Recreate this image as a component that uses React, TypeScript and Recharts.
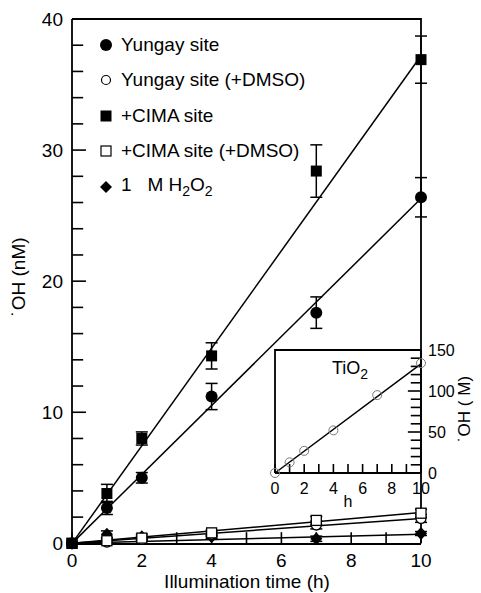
import { ComposedChart, ErrorBar, Legend, Line, Scatter, XAxis, YAxis } from 'recharts';

const hours = [0, 1, 2, 4, 7, 10];

const yungay = [0, 2.7, 5.0, 11.2, 17.6, 26.4];
const yungayErr = [0, 0.5, 0.4, 1.0, 1.2, 1.5];
const yungayDmso = [0, 0.1, 0.3, 0.7, 1.4, 1.9];
const yungayDmsoErr = [0, 0.15, 0.15, 0.2, 0.3, 0.3];
const cima = [0, 3.8, 8.0, 14.3, 28.4, 36.9];
const cimaErr = [0, 0.7, 0.5, 1.0, 2.0, 1.8];
const cimaDmso = [0, 0.2, 0.4, 0.8, 1.75, 2.3];
const cimaDmsoErr = [0, 0.15, 0.15, 0.2, 0.3, 0.3];
const h2o2 = [0, 0.7, 0.5, 0.5, 0.35, 0.75];
const h2o2Err = [0, 0.25, 0.2, 0.15, 0.2, 0.15];

// fitted lines (start and end of each fit)
const fitHours = [0, 10];
const yungayFit = [0, 26.3];
const cimaFit = [0, 37.2];
const yungayDmsoFit = [0, 1.9];
const cimaDmsoFit = [0, 2.35];
const h2o2Fit = [0, 0.7];

const mainXTicks = [0, 1, 2, 3, 4, 5, 6, 7, 8, 9, 10];
const mainYTicks = [0, 2, 4, 6, 8, 10, 12, 14, 16, 18, 20, 22, 24, 26, 28, 30, 32, 34, 36, 38, 40];

// inset: TiO2
const insetHours = [0, 1, 2, 4, 7, 10];
const tio2 = [0, 13, 27, 52, 95, 134];
const tio2Fit = [0, 133];
const insetXTicks = [0, 1, 2, 3, 4, 5, 6, 7, 8, 9, 10];
const insetYTicks = [0, 10, 20, 30, 40, 50, 60, 70, 80, 90, 100, 110, 120, 130, 140, 150];

const seriesNames = ['Yungay site', 'Yungay site (+DMSO)', '+CIMA site', '+CIMA site (+DMSO)'];

const FONT = '"Liberation Sans", Arial, Helvetica, sans-serif';
const AXIS = { stroke: '#000', strokeWidth: 1.8 };

// inward tick lengths, in axis units
const MAIN_XTICK = 0.85; // nM
const MAIN_YTICK = 0.32; // h
const MAIN_YTICK_MAJOR = 0.4;
const INSET_XTICK = 11; // uM
const INSET_YTICK = 0.7; // h
const INSET_YTICK_MAJOR = 0.9;

const toPoints = (xs: number[], ys: number[], errs?: number[]) =>
    xs.map((x, i) => ({ x, y: ys[i], err: errs ? errs[i] : 0 }));

const FilledCircle = (p: any) => <circle cx={p.cx} cy={p.cy} r={6} fill="#000" />;
const OpenCircle = (p: any) => (
    <circle cx={p.cx} cy={p.cy} r={5} fill="#fff" stroke="#000" strokeWidth={1.3} />
);
const FilledSquare = (p: any) => <rect x={p.cx - 5.5} y={p.cy - 5.5} width={11} height={11} fill="#000" />;
const OpenSquare = (p: any) => (
    <rect x={p.cx - 5} y={p.cy - 5} width={10} height={10} fill="#fff" stroke="#000" strokeWidth={1.3} />
);
const Diamond = (p: any) => (
    <polygon
        points={`${p.cx},${p.cy - 6.5} ${p.cx + 6},${p.cy} ${p.cx},${p.cy + 6.5} ${p.cx - 6},${p.cy}`}
        fill="#000"
    />
);
const InsetCircle = (p: any) => (
    <circle cx={p.cx} cy={p.cy} r={4.5} fill="none" stroke="#777" strokeWidth={1} />
);

// axis tick labels
function MainXLabel(props: any) {
    const { x, y, payload } = props;
    const v = payload.value;
    if (v % 2 !== 0) return <g />;
    return (
        <text x={x} y={y + 23} textAnchor="middle" fontSize={19} fontFamily={FONT} fill="#000">
            {v}
        </text>
    );
}

function MainYLabel(props: any) {
    const { x, y, payload } = props;
    const v = payload.value;
    if (v % 10 !== 0) return <g />;
    return (
        <text x={x - 9} y={y + 7} textAnchor="end" fontSize={19} fontFamily={FONT} fill="#000">
            {v}
        </text>
    );
}

function InsetXLabel(props: any) {
    const { x, y, payload } = props;
    const v = payload.value;
    if (v % 2 !== 0) return <g />;
    return (
        <text x={x} y={y + 21} textAnchor="middle" fontSize={16} fontFamily={FONT} fill="#000">
            {v}
        </text>
    );
}

function InsetYLabel(props: any) {
    const { x, y, payload } = props;
    const v = payload.value;
    if (v % 50 !== 0) return <g />;
    return (
        <text x={x + 7} y={y + 6} textAnchor="start" fontSize={16} fontFamily={FONT} fill="#000">
            {v}
        </text>
    );
}

function LegendMarker({ kind }: { kind: string }) {
    return (
        <svg width={14} height={14} style={{ display: 'block' }}>
            {kind === 'fc' && <circle cx={7} cy={7} r={6} fill="#000" />}
            {kind === 'oc' && <circle cx={7} cy={7} r={4.5} fill="#fff" stroke="#000" strokeWidth={1.2} />}
            {kind === 'fs' && <rect x={1.5} y={1.5} width={11} height={11} fill="#000" />}
            {kind === 'os' && <rect x={2} y={2} width={10} height={10} fill="#fff" stroke="#000" strokeWidth={1.2} />}
            {kind === 'd' && <polygon points="7,1 13,7 7,13 1,7" fill="#000" />}
        </svg>
    );
}

function LegendBox() {
    const kinds = ['fc', 'oc', 'fs', 'os'];
    const row = { display: 'flex', alignItems: 'center', height: 35.5, gap: 8 } as const;
    return (
        <div style={{ fontFamily: FONT, fontSize: 19, color: '#000', whiteSpace: 'pre' }}>
            {seriesNames.map((name, i) => (
                <div key={name} style={row}>
                    <LegendMarker kind={kinds[i]} />
                    <span>{name}</span>
                </div>
            ))}
            <div style={row}>
                <LegendMarker kind="d" />
                <span>
                    {'1   M H'}
                    <sub style={{ fontSize: 14 }}>2</sub>O<sub style={{ fontSize: 14 }}>2</sub>
                </span>
            </div>
        </div>
    );
}

const title = {
    position: 'absolute',
    fontFamily: FONT,
    color: '#000',
    whiteSpace: 'nowrap',
    lineHeight: 1,
} as const;

const plainLine = {
    type: 'linear' as const,
    stroke: '#000',
    dot: false,
    activeDot: false,
    legendType: 'none' as const,
    isAnimationActive: false,
};

export default function App() {
    return (
        <div style={{ position: 'absolute', left: 0, top: 0, width: 481, height: 593, background: '#fff' }}>
            <div style={{ position: 'absolute', left: 0, top: 0 }}>
                <ComposedChart width={481} height={593} margin={{ top: 19, right: 60, bottom: 19, left: 22 }}>
                    <XAxis
                        type="number"
                        dataKey="x"
                        domain={[0, 10]}
                        ticks={mainXTicks}
                        interval={0}
                        tickLine={false}
                        tickSize={0}
                        tickMargin={0}
                        tick={(p: any) => <MainXLabel {...p} />}
                        height={30}
                        axisLine={AXIS}
                    />
                    <YAxis
                        type="number"
                        dataKey="y"
                        domain={[0, 40]}
                        ticks={mainYTicks}
                        interval={0}
                        tickLine={false}
                        tickSize={0}
                        tickMargin={0}
                        tick={(p: any) => <MainYLabel {...p} />}
                        width={50}
                        axisLine={AXIS}
                    />
                    <Legend
                        layout="vertical"
                        align="center"
                        verticalAlign="middle"
                        wrapperStyle={{ top: 27, left: 99, width: 260 }}
                        content={() => <LegendBox />}
                    />

                    {/* top and right frame */}
                    <Line data={[{ x: 0, y: 40 }, { x: 10, y: 40 }, { x: 10, y: 0 }]} dataKey="y" strokeWidth={1.8} {...plainLine} />

                    {/* inward tick marks */}
                    {mainXTicks.map((v) => (
                        <Line key={'xt' + v} data={[{ x: v, y: 0 }, { x: v, y: MAIN_XTICK }]} dataKey="y" strokeWidth={1.6} {...plainLine} />
                    ))}
                    {mainYTicks.map((v) => (
                        <Line
                            key={'yt' + v}
                            data={[{ x: 0, y: v }, { x: v % 10 === 0 ? MAIN_YTICK_MAJOR : MAIN_YTICK, y: v }]}
                            dataKey="y"
                            strokeWidth={1.6}
                            {...plainLine}
                        />
                    ))}

                    {[
                        { d: cimaFit, k: 'cf' },
                        { d: yungayFit, k: 'yf' },
                        { d: cimaDmsoFit, k: 'cdf' },
                        { d: yungayDmsoFit, k: 'ydf' },
                        { d: h2o2Fit, k: 'hf' },
                    ].map((f) => (
                        <Line key={f.k} data={toPoints(fitHours, f.d)} dataKey="y" strokeWidth={1.5} {...plainLine} />
                    ))}

                    <Scatter data={toPoints(hours, h2o2, h2o2Err)} dataKey="y" shape={Diamond} isAnimationActive={false}>
                        <ErrorBar dataKey="err" direction="y" width={6} stroke="#000" strokeWidth={1.5} isAnimationActive={false} />
                    </Scatter>
                    <Scatter data={toPoints(hours, yungayDmso, yungayDmsoErr)} dataKey="y" shape={OpenCircle} isAnimationActive={false}>
                        <ErrorBar dataKey="err" direction="y" width={6} stroke="#000" strokeWidth={1.5} isAnimationActive={false} />
                    </Scatter>
                    <Scatter data={toPoints(hours, cimaDmso, cimaDmsoErr)} dataKey="y" shape={OpenSquare} isAnimationActive={false}>
                        <ErrorBar dataKey="err" direction="y" width={6} stroke="#000" strokeWidth={1.5} isAnimationActive={false} />
                    </Scatter>
                    <Scatter data={toPoints(hours, yungay, yungayErr)} dataKey="y" shape={FilledCircle} isAnimationActive={false}>
                        <ErrorBar dataKey="err" direction="y" width={6} stroke="#000" strokeWidth={1.5} isAnimationActive={false} />
                    </Scatter>
                    <Scatter data={toPoints(hours, cima, cimaErr)} dataKey="y" shape={FilledSquare} isAnimationActive={false}>
                        <ErrorBar dataKey="err" direction="y" width={6} stroke="#000" strokeWidth={1.5} isAnimationActive={false} />
                    </Scatter>
                </ComposedChart>
            </div>

            <div style={{ position: 'absolute', left: 240, top: 330 }}>
                <ComposedChart width={241} height={183} margin={{ top: 20, right: 15, bottom: 0, left: 35 }}>
                    <XAxis
                        type="number"
                        dataKey="x"
                        domain={[0, 10]}
                        ticks={insetXTicks}
                        interval={0}
                        tickLine={false}
                        tickSize={0}
                        tickMargin={0}
                        tick={(p: any) => <InsetXLabel {...p} />}
                        height={40}
                        axisLine={AXIS}
                    />
                    <YAxis
                        orientation="right"
                        type="number"
                        dataKey="y"
                        domain={[0, 150]}
                        ticks={insetYTicks}
                        interval={0}
                        tickLine={false}
                        tickSize={0}
                        tickMargin={0}
                        tick={(p: any) => <InsetYLabel {...p} />}
                        width={45}
                        axisLine={AXIS}
                    />
                    {/* left and top frame */}
                    <Line data={[{ x: 0, y: 0 }, { x: 0, y: 150 }, { x: 10, y: 150 }]} dataKey="y" strokeWidth={1.8} {...plainLine} />

                    {/* inward tick marks */}
                    {insetXTicks.map((v) => (
                        <Line key={'ixt' + v} data={[{ x: v, y: 0 }, { x: v, y: INSET_XTICK }]} dataKey="y" strokeWidth={1.6} {...plainLine} />
                    ))}
                    {insetYTicks.map((v) => (
                        <Line
                            key={'iyt' + v}
                            data={[{ x: 10, y: v }, { x: 10 - (v % 50 === 0 ? INSET_YTICK_MAJOR : INSET_YTICK), y: v }]}
                            dataKey="y"
                            strokeWidth={1.6}
                            {...plainLine}
                        />
                    ))}

                    <Line data={toPoints(fitHours, tio2Fit)} dataKey="y" strokeWidth={1.5} {...plainLine} />
                    <Scatter data={toPoints(insetHours, tio2)} dataKey="y" shape={InsetCircle} isAnimationActive={false} />
                </ComposedChart>
            </div>

            {/* axis titles */}
            <div style={{ ...title, left: 247, top: 572, fontSize: 19, transform: 'translateX(-50%)' }}>
                Illumination time (h)
            </div>
            <div style={{ ...title, left: 18, top: 277, fontSize: 19, transform: 'translate(-50%, -50%) rotate(-90deg)' }}>
                ˙OH (nM)
            </div>
            <div style={{ ...title, left: 348, top: 494, fontSize: 16, transform: 'translateX(-50%)' }}>h</div>
            <div style={{ ...title, left: 464, top: 409, fontSize: 17, transform: 'translate(-50%, -50%) rotate(-90deg)' }}>
                {'˙OH (  M)'}
            </div>
            <div style={{ ...title, left: 332, top: 359, fontSize: 18 }}>
                TiO<sub style={{ fontSize: 14 }}>2</sub>
            </div>
        </div>
    );
}
